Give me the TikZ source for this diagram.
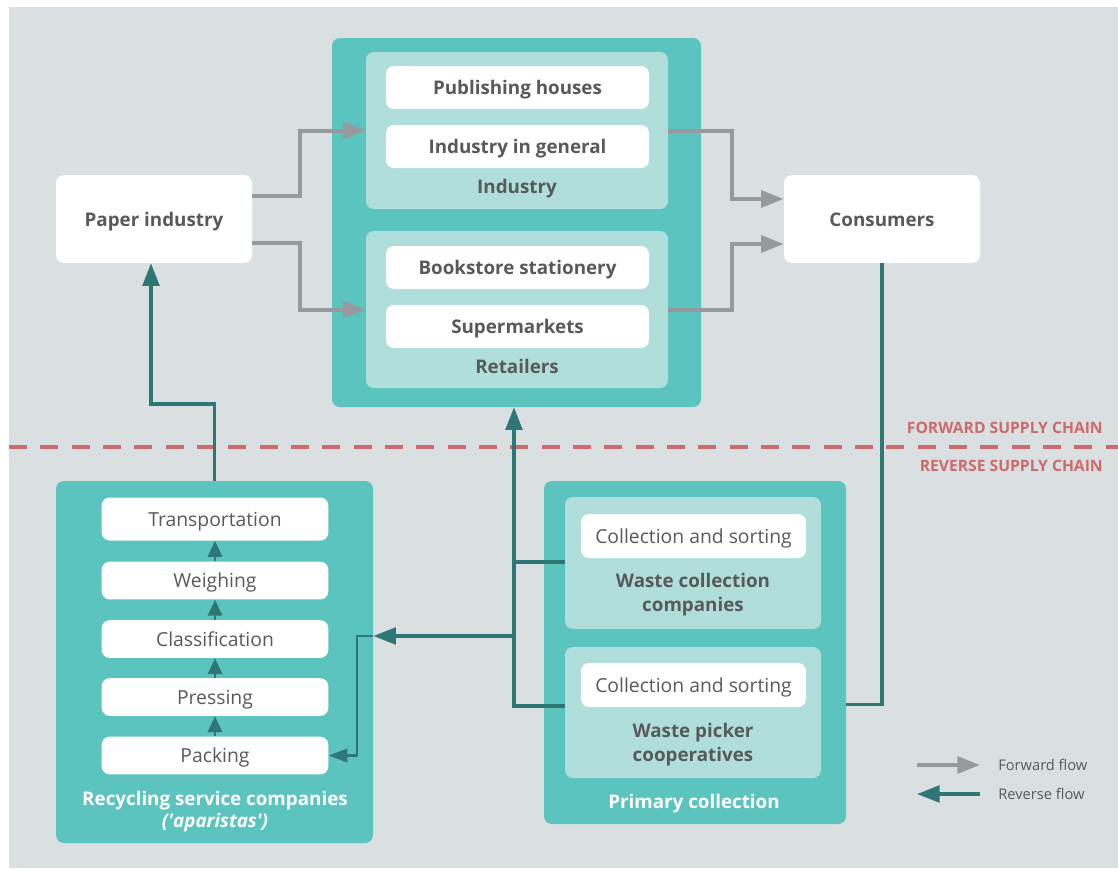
\documentclass[tikz,border=0pt]{standalone}
\usepackage{fontspec}
\setmainfont{Open Sans}
\usetikzlibrary{arrows.meta,fit,positioning}

\definecolor{bgcol}{HTML}{DADFE1}
\definecolor{tealA}{HTML}{5CC4BE}
\definecolor{tealB}{HTML}{B0DFDB}
\definecolor{tealdark}{HTML}{2E7776}
\definecolor{flowgray}{HTML}{97999C}
\definecolor{txtgray}{HTML}{58595B}
\definecolor{chainred}{HTML}{CD6A6B}

\tikzset{
  outerbox/.style={fill=tealA, rounded corners=6pt, inner sep=0pt},
  innerbox/.style={fill=tealB, rounded corners=6pt, inner sep=0pt},
  whitebox/.style={fill=white, rounded corners=6pt, text=txtgray, inner sep=0pt,
    text height=11pt, text depth=0pt},
  bigbox/.style={whitebox, minimum width=147pt, minimum height=66pt,
    font=\fontsize{14.1}{17}\selectfont\bfseries},
  itembox/.style={whitebox, minimum width=197.25pt, minimum height=32.25pt,
    font=\fontsize{14.1}{17}\selectfont\bfseries},
  stepbox/.style={whitebox, minimum width=170pt, minimum height=28.25pt,
    font=\fontsize{14.5}{18}\selectfont},
  sortbox/.style={whitebox, minimum width=168.75pt, minimum height=33pt,
    font=\fontsize{14.5}{18}\selectfont},
  grouplabel/.style={text=txtgray, align=center, font=\fontsize{14.1}{18}\selectfont\bfseries},
  whitelabel/.style={text=white, align=center, font=\fontsize{14.1}{17}\selectfont\bfseries},
  chainlabel/.style={text=chainred, anchor=east, inner sep=0pt, font=\fontsize{11.75}{14}\selectfont\bfseries},
  legendlabel/.style={text=txtgray, anchor=west, inner sep=0pt, font=\fontsize{11}{13}\selectfont},
  fwd/.style={draw=flowgray, line width=3pt, -{Triangle[length=17pt,width=12.5pt]}},
  rev/.style={draw=tealdark, line width=2.6pt, -{Triangle[length=17pt,width=12.5pt]}},
  revline/.style={draw=tealdark, line width=2.6pt},
  smallrev/.style={draw=tealdark, line width=2.2pt, -{Triangle[length=12pt,width=10.5pt]}},
}

\begin{document}
\begin{tikzpicture}[x=0.75pt, y=-0.75pt]
  \useasboundingbox (0,0) rectangle (1118,868);
  \fill[white] (0,0) rectangle (1118,868);
  \fill[bgcol] (9,7) rectangle (1118,868);

  % forward supply chain
  \node[bigbox] (paper) at (154,219) {Paper industry};
  \node[bigbox] (consumers) at (882,219) {Consumers};

  \node[outerbox, fit={(332,38) (701,407)}] (chain) {};
  \node[innerbox, fit={(366,52) (668,209)}] (industry) {};
  \node[innerbox, fit={(366,231) (668,388)}] (retail) {};

  \node[itembox] (publish) at (517.5,87.5) {Publishing houses};
  \node[itembox] (general) at (517.5,146.5) {Industry in general};
  \node[grouplabel, text height=11pt, text depth=0pt] (industrylbl) at (517,186) {Industry};
  \node[itembox] (bookstore) at (517.5,267.5) {Bookstore stationery};
  \node[itembox] (supermkt) at (517.5,326.5) {Supermarkets};
  \node[grouplabel, text height=11pt, text depth=0pt] (retaillbl) at (517,366) {Retailers};

  \draw[fwd] (paper.east |- 0,196) -- (300,196) |- (industry.west);
  \draw[fwd] (paper.east |- 0,242.7) -- (300,242.7) |- (retail.west);
  \draw[fwd] (industry.east) -- (732,130.5) |- (consumers.west |- 0,199);
  \draw[fwd] (retail.east) -- (732,309.5) |- (consumers.west |- 0,244);

  % divide
  \draw[chainred, line width=3pt, dash pattern=on 13.5pt off 10pt] (9,447) -- (1118,447);
  \node[chainlabel] (fwdlbl) at (1103,428) {FORWARD SUPPLY CHAIN};
  \node[chainlabel] (revlbl) at (1103,466) {REVERSE SUPPLY CHAIN};

  % reverse supply chain
  \node[outerbox, fit={(56,481) (373,843)}] (recycle) {};
  \node[stepbox, minimum height=32.25pt] (transport) at (215,519) {Transportation};
  \node[stepbox] (weighing) at (215,580.5) {Weighing};
  \node[stepbox] (classif) at (215,639) {Classification};
  \node[stepbox] (pressing) at (215,697) {Pressing};
  \node[stepbox] (packing) at (215,755.5) {Packing};
  \node[whitelabel] (recyclelbl) at (215,811.5) {Recycling service companies\\\textit{(\textquotesingle aparistas\textquotesingle)}};

  \foreach \a/\b in {packing/pressing,pressing/classif,classif/weighing,weighing/transport}
    \draw[smallrev] (\a.north) -- (\b.south);

  \node[outerbox, fit={(544,481) (846,824)}] (primary) {};
  \node[innerbox, fit={(565,497) (821,629)}] (wastecomp) {};
  \node[innerbox, fit={(565,647) (821,778)}] (pickers) {};
  \node[sortbox] (sortA) at (693.5,536) {Collection and sorting};
  \node[grouplabel] (wastecomplbl) at (693,595) {Waste collection\\companies};
  \node[sortbox] (sortB) at (693.5,685) {Collection and sorting};
  \node[grouplabel] (pickerslbl) at (693,745) {Waste picker\\cooperatives};
  \node[whitelabel] (primarylbl) at (694,804) {Primary collection};

  \draw[revline] (consumers.south) |- (primary.east |- 0,704.5);
  \draw[rev] (recycle.north) |- (151,404) -- (paper.south -| 151,0);
  \draw[revline] (wastecomp.west |- 0,562) -- (514,562);
  \draw[rev] (pickers.west |- 0,706) -| (chain.south -| 514,0);
  \coordinate (split) at (514,636);
  \draw[rev] (split) -- (recycle.east |- split);
  \draw[smallrev, -{Triangle[length=14pt,width=10pt]}] (recycle.east |- split) -- (357,636) |- (packing.east);

  % legend
  \coordinate (fwdA) at (917,765);
  \coordinate (fwdB) at (980,765);
  \coordinate (revA) at (980,794);
  \coordinate (revB) at (917,794);
  \draw[fwd] (fwdA) -- (fwdB);
  \draw[rev] (revA) -- (revB);
  \node[legendlabel] (fwdleg) at (998,765) {Forward flow};
  \node[legendlabel] (revleg) at (998,794) {Reverse flow};
\end{tikzpicture}
\end{document}
